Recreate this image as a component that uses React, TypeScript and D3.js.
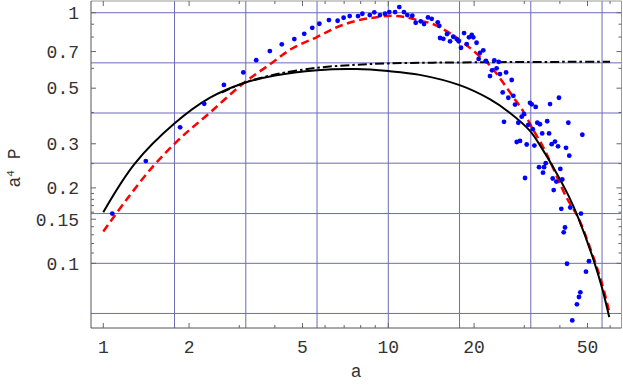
import * as d3 from 'd3';

// axis ticks and grid (log-log frame)
const xMajor = [1, 2, 5, 10, 20, 50];
const xMinor = [3, 4, 6, 7, 8, 9, 30, 40, 60];
const yMajor = [0.1, 0.15, 0.2, 0.3, 0.5, 0.7, 1];
const yMinor = [0.11, 0.12, 0.13, 0.14, 0.16, 0.17, 0.18, 0.19, 0.25, 0.4, 0.6, 0.8, 0.9];
const xGrid = [1.778, 3.162, 5.623, 10, 17.78, 31.62, 56.23];
const yGrid = [1, 0.631, 0.398, 0.251, 0.158, 0.1, 0.0631];

// measured points
const pointA = [
  1.075, 1.41, 1.86, 2.26, 2.65, 3.1, 3.44, 3.84, 4.23, 4.68, 5.07, 5.41, 5.73, 6.19, 6.64, 6.97,
  7.32, 7.83, 8.11, 8.61, 8.93, 9.35, 9.74, 10.08, 10.56, 10.93, 11.35, 11.66, 12.14, 12.48, 12.99,
  13.35, 13.78, 14.2, 14.91, 15.1, 15.19, 15.6, 16.07, 16.47, 16.9, 17.38, 17.66, 17.99, 18.44,
  18.84, 19.19, 19.62, 19.87, 20.4, 20.75, 20.98, 21.54, 22.02, 22.74, 23.12, 23.55, 23.99, 24.4,
  24.65, 25.2, 25.9, 26.37, 27.1, 27.46, 25.47, 27.84, 28.22, 28.58, 28.98, 29.38, 29.92, 30.18,
  30.59, 30.99, 31.42, 31.86, 32.13, 32.55, 32.9, 33.33, 33.8, 34.05, 34.67, 34.9, 35.2, 35.67,
  36.1, 36.65, 36.94, 37.43, 37.75, 38.05, 38.45, 38.87, 39.4, 39.7, 40.14, 40.46, 40.78, 41.25,
  41.69, 42.03, 42.37, 42.82, 43.15, 43.5, 44.2, 45.9, 46.67, 47.18, 47.43, 47.95, 49.4, 50.6,
];
const pointP = [
  0.158, 0.256, 0.349, 0.433, 0.515, 0.578, 0.647, 0.703, 0.748, 0.785, 0.824, 0.871, 0.904, 0.935,
  0.929, 0.955, 0.97, 0.97, 0.991, 0.979, 1.004, 0.979, 0.991, 1.006, 1.006, 1.054, 1.006, 0.979,
  0.973, 0.912, 0.924, 0.901, 0.958, 0.946, 0.916, 0.887, 0.793, 0.787, 0.822, 0.769, 0.802, 0.785,
  0.769, 0.725, 0.83, 0.75, 0.798, 0.815, 0.798, 0.759, 0.654, 0.692, 0.708, 0.642, 0.559, 0.589,
  0.646, 0.6, 0.637, 0.569, 0.481, 0.578, 0.458, 0.539, 0.466, 0.367, 0.43, 0.305, 0.364, 0.308,
  0.385, 0.394, 0.219, 0.298, 0.357, 0.437, 0.431, 0.343, 0.295, 0.421, 0.364, 0.242, 0.359, 0.33,
  0.23, 0.242, 0.251, 0.369, 0.33, 0.432, 0.299, 0.218, 0.196, 0.306, 0.212, 0.293, 0.458, 0.238,
  0.165, 0.216, 0.133, 0.139, 0.289, 0.0996, 0.364, 0.269, 0.167, 0.0592, 0.0686, 0.0734, 0.0766,
  0.158, 0.326, 0.0926, 0.102,
];

// black solid model
const solidA = [1.0, 1.29, 1.78, 2.37, 3.1, 4.0, 5.62, 7.7, 10, 12.9, 17.8, 22.7, 26.6, 31.4, 34.5, 37.9, 43.0, 46.4, 52.4, 56.2, 59.6];
const solidP = [0.16, 0.25, 0.362, 0.458, 0.523, 0.562, 0.59, 0.596, 0.585, 0.565, 0.514, 0.452, 0.4, 0.338, 0.289, 0.242, 0.185, 0.152, 0.104, 0.08, 0.061];

// black dash-dot model
const dotDashA = [2.6, 3.1, 4.0, 5.62, 7.7, 10, 14, 20, 30, 45, 60];
const dotDashP = [0.48, 0.524, 0.567, 0.603, 0.62, 0.628, 0.632, 0.634, 0.636, 0.637, 0.638];

// red dashed fit
const dashA = [1.0, 1.2, 1.5, 1.86, 2.37, 3.1, 3.84, 4.6, 5.62, 6.6, 7.75, 9.0, 10.3, 11.5, 12.9, 14.4, 16, 17.8, 19.6, 21.5, 22.7, 24.9, 27.4, 29.7, 32.3, 35, 36.9, 42.2, 46.4, 52.4, 56.2, 59.4];
const dashP = [0.134, 0.178, 0.245, 0.315, 0.4, 0.523, 0.622, 0.72, 0.8, 0.875, 0.93, 0.958, 0.972, 0.96, 0.93, 0.9, 0.845, 0.778, 0.715, 0.652, 0.618, 0.539, 0.462, 0.405, 0.34, 0.29, 0.256, 0.183, 0.152, 0.106, 0.083, 0.065];

const font = '"Liberation Mono", "DejaVu Sans Mono", monospace';

export default function App() {
  const width = 623;
  const height = 385;
  const left = 91;
  const right = 621.5;
  const top = 1;
  const bottom = 328;

  const x = d3.scaleLog().domain([0.9055, 65.8]).range([left, right]);
  const y = d3.scaleLog().domain([0.0552, 1.114]).range([bottom, top]);

  const line = d3
    .line<[number, number]>()
    .x((d) => x(d[0]))
    .y((d) => y(d[1]))
    .curve(d3.curveCatmullRom.alpha(0.5));

  const zip = (a: number[], p: number[]) => a.map((v, i) => [v, p[i]] as [number, number]);

  const tickColor = '#666';

  return (
    <svg
      width={width}
      height={height}
      style={{ position: 'absolute', left: 0, top: 0, background: '#fff' }}
    >
      <defs>
        <clipPath id="plot">
          <rect x={left} y={top} width={right - left} height={bottom - top} />
        </clipPath>
      </defs>

      {/* grid */}
      {xGrid.map((v) => (
        <line key={'gx' + v} x1={x(v)} x2={x(v)} y1={top} y2={bottom} stroke="#6c6cb8" strokeWidth={1} />
      ))}
      {yGrid.map((v) => (
        <line key={'gy' + v} x1={left} x2={right} y1={y(v)} y2={y(v)} stroke="#6c6cb8" strokeWidth={1} />
      ))}

      <g clipPath="url(#plot)">
        <path d={line(zip(dashA, dashP)) ?? ''} fill="none" stroke="#ff0000" strokeWidth={2.5} strokeDasharray="8,4.5" />
        <path d={line(zip(solidA, solidP)) ?? ''} fill="none" stroke="#000" strokeWidth={2} />
        <path d={line(zip(dotDashA, dotDashP)) ?? ''} fill="none" stroke="#000" strokeWidth={2} strokeDasharray="9,3,2.5,3" />
        {pointA.map((v, i) => (
          <circle key={'p' + i} cx={x(v)} cy={y(pointP[i])} r={2.4} fill="#0000ff" />
        ))}
      </g>

      {/* frame */}
      <line x1={left} x2={right} y1={top} y2={top} stroke="#999" />
      <line x1={right} x2={right} y1={top} y2={bottom} stroke="#999" />
      <line x1={left} x2={right} y1={bottom} y2={bottom} stroke="#555" />
      <line x1={left} x2={left} y1={top} y2={bottom} stroke="#555" />

      {/* x ticks, bottom and top */}
      {xMajor.concat(xMinor).map((v) => {
        const len = xMajor.includes(v) ? 5 : 3;
        return (
          <g key={'tx' + v} stroke={tickColor}>
            <line x1={x(v)} x2={x(v)} y1={bottom} y2={bottom - len} />
            <line x1={x(v)} x2={x(v)} y1={top} y2={top + len} />
          </g>
        );
      })}
      {/* y ticks, left and right */}
      {yMajor.concat(yMinor).map((v) => {
        const len = yMajor.includes(v) ? 5 : 3;
        return (
          <g key={'ty' + v} stroke={tickColor}>
            <line x1={left} x2={left + len} y1={y(v)} y2={y(v)} />
            <line x1={right} x2={right - len} y1={y(v)} y2={y(v)} />
          </g>
        );
      })}

      {/* tick labels */}
      {xMajor.map((v) => (
        <text key={'lx' + v} x={x(v)} y={353} textAnchor="middle" fontFamily={font} fontSize={18} fill="#333">
          {v}
        </text>
      ))}
      {yMajor.map((v) => (
        <text key={'ly' + v} x={79} y={y(v)} dy="0.35em" textAnchor="end" fontFamily={font} fontSize={18} fill="#333">
          {v}
        </text>
      ))}

      {/* axis labels */}
      <text x={(left + right) / 2} y={377} textAnchor="middle" fontFamily={font} fontSize={18} fill="#333">
        a
      </text>
      <text transform="translate(20,168) rotate(-90)" textAnchor="middle" fontFamily={font} fontSize={18} fill="#333">
        a
        <tspan fontSize={11} dy={-6}>4</tspan>
        <tspan dy={6}> P</tspan>
      </text>
    </svg>
  );
}
